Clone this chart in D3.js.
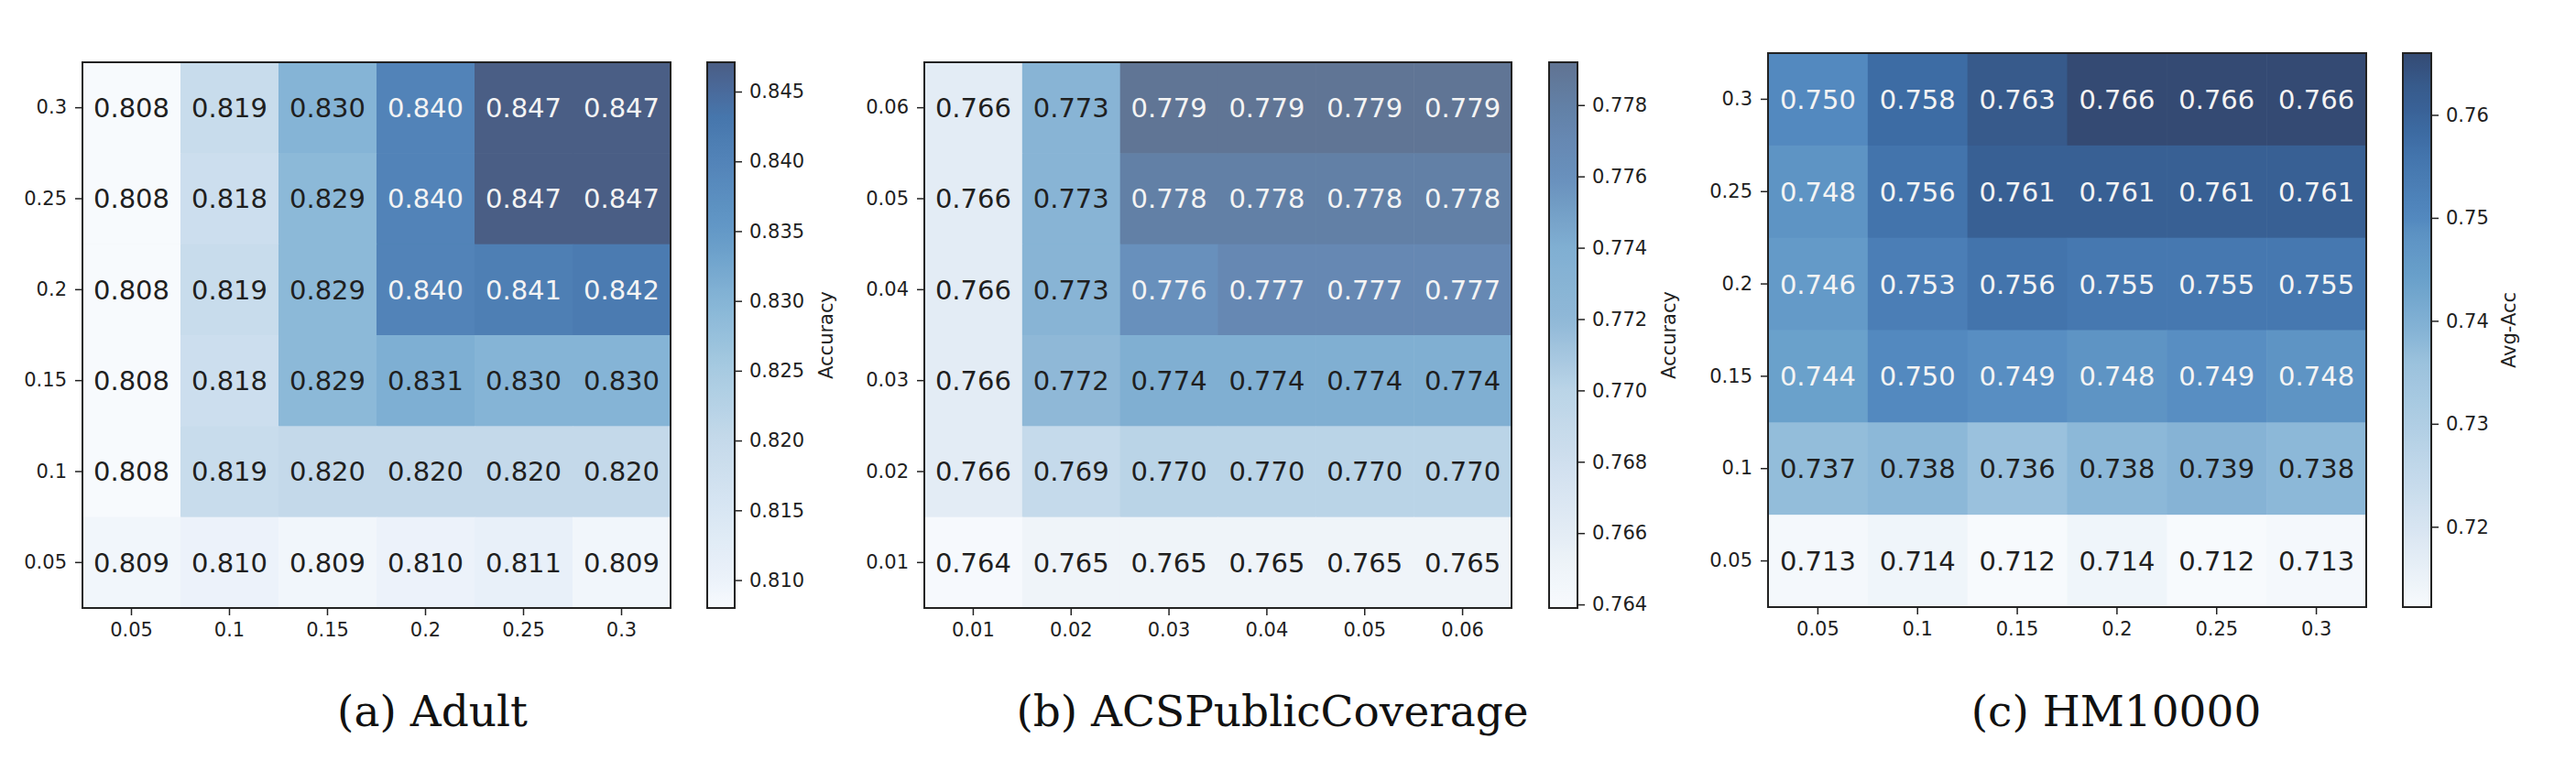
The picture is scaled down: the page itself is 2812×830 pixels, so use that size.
<!DOCTYPE html>
<html><head><meta charset="utf-8">
<script src="https://cdn.jsdelivr.net/npm/d3@7"></script>
<style>html,body{margin:0;padding:0;background:#fff;} svg{display:block}</style>
</head><body>
<svg id="chart" width="2812" height="830"></svg>
<script>
// ---------------- data ----------------
// (a) Adult  (rows listed top -> bottom)
const adultX = ["0.05","0.1","0.15","0.2","0.25","0.3"];
const adultY = ["0.3","0.25","0.2","0.15","0.1","0.05"];
const adultValues = [
  [0.808,0.819,0.830,0.840,0.847,0.847],
  [0.808,0.818,0.829,0.840,0.847,0.847],
  [0.808,0.819,0.829,0.840,0.841,0.842],
  [0.808,0.818,0.829,0.831,0.830,0.830],
  [0.808,0.819,0.820,0.820,0.820,0.820],
  [0.809,0.810,0.809,0.810,0.811,0.809]
];
const adultRange = [0.8080, 0.8471];
const adultTicks = [0.810,0.815,0.820,0.825,0.830,0.835,0.840,0.845];

// (b) ACSPublicCoverage
const acsX = ["0.01","0.02","0.03","0.04","0.05","0.06"];
const acsY = ["0.06","0.05","0.04","0.03","0.02","0.01"];
const acsValues = [
  [0.766,0.773,0.779,0.779,0.779,0.779],
  [0.766,0.773,0.778,0.778,0.778,0.778],
  [0.766,0.773,0.776,0.777,0.777,0.777],
  [0.766,0.772,0.774,0.774,0.774,0.774],
  [0.766,0.769,0.770,0.770,0.770,0.770],
  [0.764,0.765,0.765,0.765,0.765,0.765]
];
const acsRange = [0.7639, 0.7792];
const acsTicks = [0.764,0.766,0.768,0.770,0.772,0.774,0.776,0.778];

// (c) HM10000
const hmX = ["0.05","0.1","0.15","0.2","0.25","0.3"];
const hmY = ["0.3","0.25","0.2","0.15","0.1","0.05"];
const hmValues = [
  [0.750,0.758,0.763,0.766,0.766,0.766],
  [0.748,0.756,0.761,0.761,0.761,0.761],
  [0.746,0.753,0.756,0.755,0.755,0.755],
  [0.744,0.750,0.749,0.748,0.749,0.748],
  [0.737,0.738,0.736,0.738,0.739,0.738],
  [0.713,0.714,0.712,0.714,0.712,0.713]
];
const hmRange = [0.7122, 0.7660];
const hmTicks = [0.72,0.73,0.74,0.75,0.76];

const labels = ["Accuracy","Accuracy","Avg-Acc"];
const captions = ["(a) Adult","(b) ACSPublicCoverage","(c) HM10000"];

// ---------------- styles / layout ----------------
const colorStops = [
  [[0,"#f7fafd"],[0.05,"#ecf2fa"],[0.18,"#d8e6f3"],[0.31,"#c4d9ea"],[0.44,"#a6cae1"],[0.56,"#86b5d6"],[0.69,"#6399c7"],[0.82,"#5283b8"],[0.9,"#4676ac"],[0.95,"#4a6a9a"],[1,"#4a5d84"]],
  [[0,"#f7fafd"],[0.07,"#eff4f9"],[0.14,"#e3ecf5"],[0.27,"#cfdfee"],[0.4,"#bad4e7"],[0.53,"#8fb8d7"],[0.66,"#80afd2"],[0.79,"#6890bc"],[0.86,"#6688b2"],[0.92,"#6280a6"],[1,"#607392"]],
  [[0,"#f7fafd"],[0.04,"#eef4f9"],[0.15,"#d6e4f1"],[0.33,"#b0cee4"],[0.44,"#9bc2dd"],[0.5,"#85b3d5"],[0.59,"#6aa1cb"],[0.67,"#5d93c4"],[0.70,"#5389bf"],[0.8,"#4577af"],[0.85,"#3d6ca4"],[0.91,"#385f93"],[0.944,"#375a8b"],[1,"#344a73"]]
];
const layout = [
  {plot:[90,732,68,664],   cb:[772,802],   labelX:902,  capX:472,  fmt:".3f"},
  {plot:[1009,1650,68,664],cb:[1691,1722], labelX:1822, capX:1389, fmt:".3f"},
  {plot:[1930,2583,58,663],cb:[2623,2654], labelX:2739, capX:2310, fmt:".2f"}
];
const panels = [
  {xs:adultX, ys:adultY, values:adultValues, range:adultRange, ticks:adultTicks},
  {xs:acsX,   ys:acsY,   values:acsValues,   range:acsRange,   ticks:acsTicks},
  {xs:hmX,    ys:hmY,    values:hmValues,    range:hmRange,    ticks:hmTicks}
];

const svg = d3.select("#chart");
const defs = svg.append("defs");
const INK = "#1f1f1f";

function lum(c){
  const r = d3.rgb(c);
  const f = v => { v/=255; return v<=0.03928 ? v/12.92 : Math.pow((v+0.055)/1.055,2.4); };
  return 0.2126*f(r.r)+0.7152*f(r.g)+0.0722*f(r.b);
}

panels.forEach((p, i) => {
  const L = layout[i];
  const [l, r, t, b] = L.plot;
  const stops = colorStops[i];
  const norm = d3.scaleLinear().domain(p.range).range([0,1]).clamp(true);
  const ramp = d3.scaleLinear().domain(stops.map(s=>s[0])).range(stops.map(s=>s[1])).interpolate(d3.interpolateRgb);
  const color = v => ramp(norm(v));

  const x = d3.scaleBand().domain(p.xs).range([l, r]).padding(0);
  const y = d3.scaleBand().domain(p.ys).range([t, b]).padding(0);
  const g = svg.append("g");

  const cells = [];
  p.values.forEach((row, ri) => row.forEach((v, ci) => cells.push({xk:p.xs[ci], yk:p.ys[ri], v})));

  g.selectAll("rect.cell").data(cells).join("rect")
    .attr("class","cell")
    .attr("x", d => x(d.xk)).attr("y", d => y(d.yk))
    .attr("width", x.bandwidth()+0.6).attr("height", y.bandwidth()+0.6)
    .attr("fill", d => color(d.v));

  g.selectAll("text.val").data(cells).join("text")
    .attr("class","val")
    .attr("x", d => x(d.xk) + x.bandwidth()/2)
    .attr("y", d => y(d.yk) + y.bandwidth()/2)
    .attr("dy","0.36em")
    .attr("text-anchor","middle")
    .attr("font-family","DejaVu Sans")
    .attr("font-size", 29)
    .attr("fill", d => lum(color(d.v)) < 0.37 ? "#f4f4f4" : INK)
    .text(d => d3.format(".3f")(d.v));

  g.append("rect").attr("x",l).attr("y",t).attr("width",r-l).attr("height",b-t)
    .attr("fill","none").attr("stroke","#222").attr("stroke-width",2);

  const ax = g.append("g").attr("transform",`translate(0,${b})`)
    .call(d3.axisBottom(x).tickSize(8).tickPadding(8));
  const ay = g.append("g").attr("transform",`translate(${l},0)`)
    .call(d3.axisLeft(y).tickSize(8).tickPadding(9));
  [ax, ay].forEach(a => {
    a.select(".domain").remove();
    a.selectAll("line").attr("stroke","#222").attr("stroke-width",1.5);
    a.selectAll("text").attr("font-family","DejaVu Sans").attr("font-size",21).attr("fill",INK);
  });

  // colorbar
  const [cl, cr] = L.cb;
  const cy = d3.scaleLinear().domain(p.range).range([b, t]);
  const gid = "grad"+i;
  const grad = defs.append("linearGradient").attr("id",gid)
    .attr("x1","0").attr("y1","1").attr("x2","0").attr("y2","0");
  d3.range(0, 1.0001, 0.02).forEach(s => {
    grad.append("stop").attr("offset", s).attr("stop-color", ramp(s));
  });
  g.append("rect").attr("x",cl).attr("y",t).attr("width",cr-cl).attr("height",b-t)
    .attr("fill",`url(#${gid})`).attr("stroke","#222").attr("stroke-width",2);
  const ac = g.append("g").attr("transform",`translate(${cr},0)`)
    .call(d3.axisRight(cy).tickValues(p.ticks).tickFormat(d3.format(L.fmt)).tickSize(8).tickPadding(8));
  ac.select(".domain").remove();
  ac.selectAll("line").attr("stroke","#222").attr("stroke-width",1.5);
  ac.selectAll("text").attr("font-family","DejaVu Sans").attr("font-size",21).attr("fill",INK);

  g.append("text")
    .attr("transform",`translate(${L.labelX},${(t+b)/2}) rotate(-90)`)
    .attr("text-anchor","middle").attr("dy","0.35em")
    .attr("font-family","DejaVu Sans").attr("font-size",21).attr("fill",INK)
    .text(labels[i]);

  svg.append("text").attr("x", L.capX).attr("y", 793)
    .attr("text-anchor","middle")
    .attr("font-family","DejaVu Serif").attr("font-size",47).attr("fill","#111")
    .text(captions[i]);
});
</script>
</body></html>
